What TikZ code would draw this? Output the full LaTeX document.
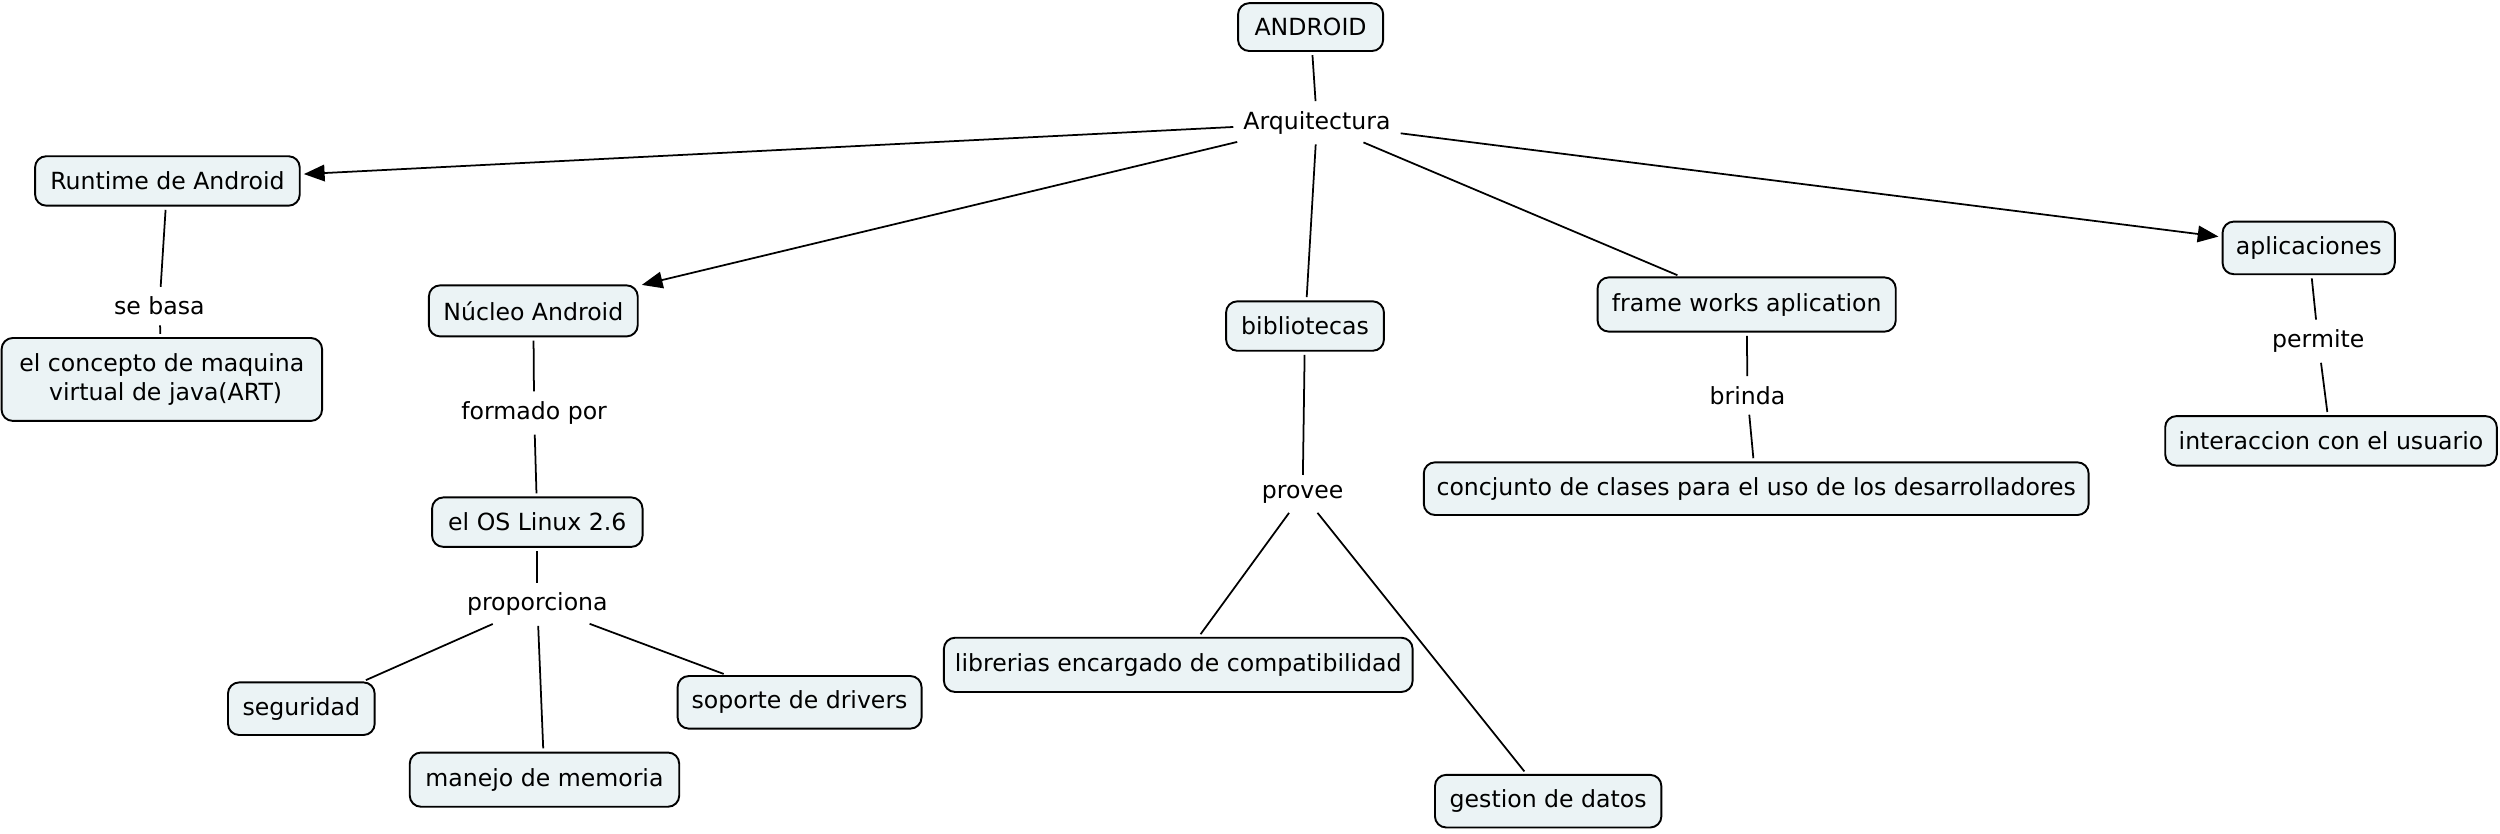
\documentclass[tikz,border=0pt]{standalone}
\usepackage{fontspec}
\setmainfont{DejaVu Sans}
\usetikzlibrary{arrows.meta}
\definecolor{boxfill}{HTML}{EBF3F5}
\begin{document}
\begin{tikzpicture}[x=0.5pt,y=-0.5pt,
  every node/.style={font=\fontsize{7.4pt}{9pt}\selectfont},
  cbox/.style={draw, rounded corners=3.5pt, fill=boxfill, line width=0.6pt, inner sep=0pt, align=center},
  lab/.style={inner sep=2pt, align=center},
  conn/.style={line width=0.55pt, shorten <=1pt, shorten >=1pt},
  arr/.style={conn, -{Triangle[length=6.5pt,width=5.2pt]}, shorten >=1pt}
]
\useasboundingbox (0,0) rectangle (1568,522.5);
% concepts
\node[cbox, minimum width=45.5pt, minimum height=15pt] (android) at (822,17) {ANDROID};
\node[lab] (arq) at (826,77) {Arquitectura};
\node[cbox, minimum width=83pt, minimum height=15.5pt] (runtime) at (105,113.5) {Runtime de Android};
\node[lab] (sebasa) at (100,192) {se basa};
\node[cbox, minimum width=100.5pt, minimum height=26pt] (concepto) at (101.5,238) {el concepto de maquina\\ \ virtual de java(ART)};
\node[cbox, minimum width=65.5pt, minimum height=16pt] (nucleo) at (334.5,195) {Núcleo Android};
\node[lab] (formado) at (335,259) {formado por};
\node[cbox, minimum width=66pt, minimum height=15.5pt] (os) at (337,327.5) {el OS Linux 2.6};
\node[lab] (prop) at (337,379) {proporciona};
\node[cbox, minimum width=46pt, minimum height=16.5pt] (seg) at (189,444.5) {seguridad};
\node[cbox, minimum width=84.5pt, minimum height=17pt] (manejo) at (341.5,489) {manejo de memoria};
\node[cbox, minimum width=76.5pt, minimum height=16.5pt] (soporte) at (501.5,440.5) {soporte de drivers};
\node[cbox, minimum width=49.5pt, minimum height=15.5pt] (biblio) at (818.5,204.5) {bibliotecas};
\node[lab] (provee) at (817,310) {provee};
\node[cbox, minimum width=147pt, minimum height=17pt] (librerias) at (739,417) {librerias encargado de compatibilidad};
\node[cbox, minimum width=71pt, minimum height=16.5pt] (gestion) at (971,502.5) {gestion de datos};
\node[cbox, minimum width=93.5pt, minimum height=17pt] (frame) at (1095.5,191) {frame works aplication};
\node[lab] (brinda) at (1096,248) {brinda};
\node[cbox, minimum width=208.5pt, minimum height=16.5pt] (concj) at (1101.5,306.5) {concjunto de clases para el uso de los desarrolladores};
\node[cbox, minimum width=54pt, minimum height=16.5pt] (aplic) at (1448,155.5) {aplicaciones};
\node[lab] (permite) at (1454,214) {permite};
\node[cbox, minimum width=104pt, minimum height=15.5pt] (inter) at (1462,276.5) {interaccion con el usuario};
% connectors
\draw[conn] (android) -- (arq);
\draw[arr] (arq) -- (runtime);
\draw[arr] (arq) -- (nucleo);
\draw[conn] (arq) -- (biblio);
\draw[conn] (arq) -- (frame);
\draw[arr] (arq) -- (aplic);
\draw[conn] (runtime) -- (sebasa);
\draw[conn] (sebasa) -- (concepto);
\draw[conn] (nucleo) -- (formado);
\draw[conn] (formado) -- (os);
\draw[conn] (os) -- (prop);
\draw[conn] (prop) -- (seg);
\draw[conn] (prop) -- (manejo);
\draw[conn] (prop) -- (soporte);
\draw[conn] (biblio) -- (provee);
\draw[conn] (provee) -- (librerias);
\draw[conn] (provee) -- (gestion);
\draw[conn] (frame) -- (brinda);
\draw[conn] (brinda) -- (concj);
\draw[conn] (aplic) -- (permite);
\draw[conn] (permite) -- (inter);
\end{tikzpicture}
\end{document}
